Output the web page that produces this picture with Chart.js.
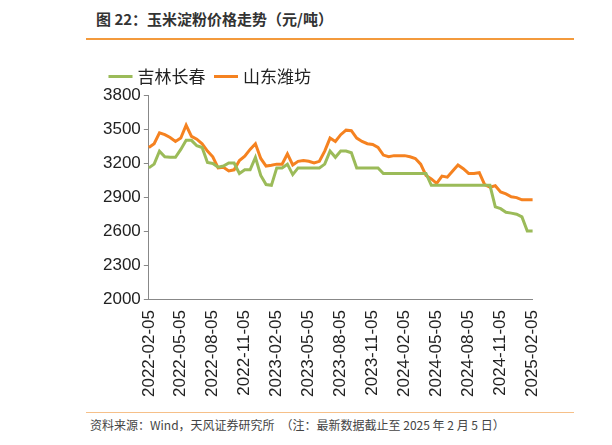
<!DOCTYPE html>
<html lang="zh">
<head>
    <meta charset="UTF-8">
    <title>玉米淀粉价格走势</title>
    <script src="https://cdn.jsdelivr.net/npm/chart.js"></script>
    <style>
        body { margin: 0; width: 612px; height: 445px; background: #fff; font-family: "Noto Sans CJK SC", sans-serif; position: relative; overflow: hidden; }
        .title { position: absolute; left: 96px; top: 8px; font-size: 15px; color: #333; font-weight: bold; }
        .rule { position: absolute; left: 86px; top: 38px; width: 488px; height: 2px; background: #f39a3c; }
        .foot { position: absolute; left: 90px; top: 416px; font-size: 12px; color: #444; }
        .footrule { position: absolute; left: 86px; top: 412px; width: 488px; height: 1px; background: #f6c089; }
        #wrap { position: absolute; left: 100px; top: 56px; width: 456px; height: 344px; }
    </style>
</head>
<body>
    <div class="title">图 22：玉米淀粉价格走势（元/吨）</div>
    <div class="rule"></div>
    <div id="wrap"><canvas id="grafico"></canvas></div>
    <div class="footrule"></div>
    <div class="foot">资料来源：Wind，天风证券研究所　（注：最新数据截止至 2025 年 2 月 5 日）</div>

    <script>
        // 半月频数据，2022-02-05 至 2025-02-05
        const datas = [];
        for (let y = 2022; y <= 2025; y++) {
            for (let m = 1; m <= 12; m++) {
                if ((y === 2022 && m < 2) || (y === 2025 && m > 2)) continue;
                const mm = String(m).padStart(2, "0");
                datas.push(`${y}-${mm}-05`);
                if (!(y === 2025 && m === 2)) datas.push(`${y}-${mm}-20`);
            }
        }

        const jilin = [3157, 3190, 3305, 3255, 3250, 3250, 3320, 3400, 3400, 3352, 3337, 3205, 3196, 3163, 3173, 3200,
            3200, 3108, 3140, 3140, 3250, 3090, 3010, 3003, 3157, 3157, 3190, 3098, 3157, 3157, 3157, 3157, 3157, 3190,
            3305, 3250, 3305, 3305, 3290, 3157, 3157, 3157, 3157, 3157, 3108, 3108, 3108, 3108, 3108, 3108, 3108, 3108,
            3108, 3003, 3003, 3003, 3003, 3003, 3003, 3003, 3003, 3003, 3003, 3003, 3003, 2813, 2797, 2765, 2758, 2748,
            2725, 2600, 2600];
        const shandong = [3337, 3370, 3467, 3450, 3425, 3390, 3420, 3533, 3435, 3410, 3370, 3305, 3255, 3157, 3163, 3130,
            3140, 3222, 3260, 3320, 3370, 3240, 3173, 3180, 3190, 3190, 3280, 3183, 3215, 3222, 3215, 3200, 3215, 3305,
            3420, 3390, 3450, 3490, 3485, 3420, 3390, 3370, 3363, 3337, 3270, 3255, 3265, 3265, 3265, 3255, 3240, 3190,
            3090, 3060, 3020, 3085, 3075, 3130, 3183, 3150, 3108, 3108, 3115, 3010, 2987, 3000, 2944, 2928, 2902, 2895,
            2875, 2875, 2875];
        const yTicks = [2000, 2300, 2600, 2900, 3200, 3500, 3800];

        let ctx = document.getElementById("grafico").getContext("2d");
        new Chart(ctx, {
            type: "line",
            data: {
                labels: datas,
                datasets: [
                    { label: "吉林长春", data: jilin, borderColor: "#9bbb59", borderWidth: 3, pointRadius: 0, tension: 0 },
                    { label: "山东潍坊", data: shandong, borderColor: "#f58220", borderWidth: 3, pointRadius: 0, tension: 0 }
                ]
            },
            options: {
                animation: false,
                responsive: true,
                maintainAspectRatio: false,
                layout: { padding: { left: 0, right: 8 } },
                plugins: {
                    legend: {
                        align: "start",
                        labels: { usePointStyle: true, pointStyle: "line", boxWidth: 36, color: "#222", font: { size: 17, family: "Noto Sans CJK SC" }, padding: 12 }
                    },
                    tooltip: { enabled: false }
                },
                scales: {
                    x: {
                        grid: { display: false },
                        border: { color: "#888" },
                        ticks: {
                            autoSkip: false, maxRotation: 90, minRotation: 90, color: "#222",
                            font: { size: 17, family: "Liberation Sans" },
                            callback: (v, i) => (i % 6 === 0 ? datas[i] : null)
                        }
                    },
                    y: {
                        min: 2000, max: 3800,
                        afterBuildTicks: s => { s.ticks = yTicks.map(v => ({ value: v })); },
                        grid: { drawOnChartArea: false, tickLength: 5, color: "#888" },
                        border: { color: "#888" },
                        ticks: { color: "#222", font: { size: 17, family: "Liberation Sans" }, callback: v => String(v) }
                    }
                }
            }
        });
    </script>
</body>
</html>
